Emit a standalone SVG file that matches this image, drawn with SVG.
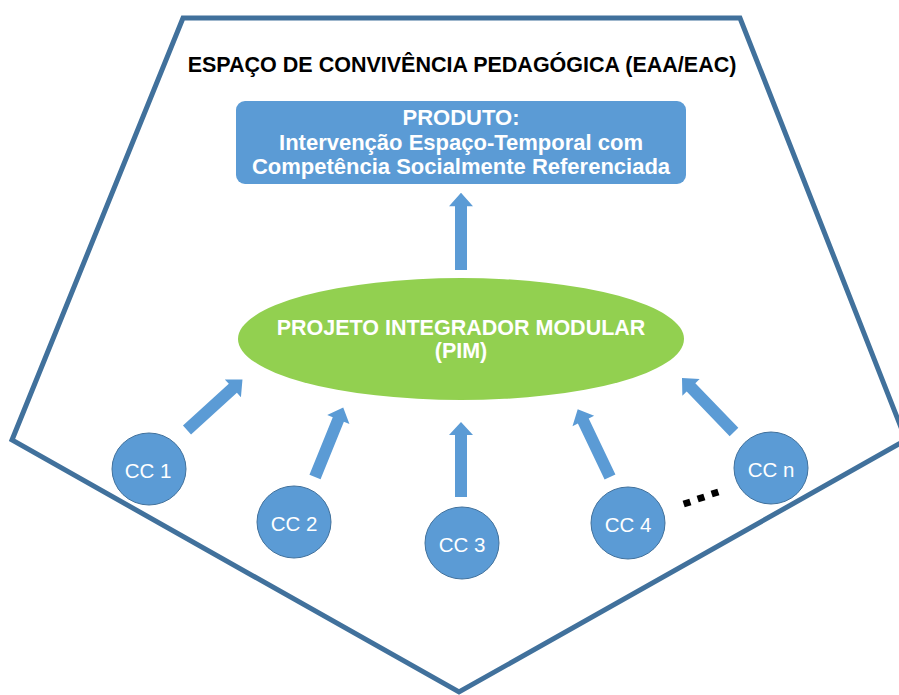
<svg xmlns="http://www.w3.org/2000/svg" xmlns:xlink="http://www.w3.org/1999/xlink" width="899" height="695" viewBox="0 0 899 695">
<style>
.frame{fill:none;stroke:#41719c;stroke-width:5;stroke-linejoin:miter}
.title{font-family:"Liberation Sans",Arial,sans-serif;font-weight:bold;font-size:21.5px;fill:#000;text-anchor:middle}
.wb{font-family:"Liberation Sans",Arial,sans-serif;font-weight:bold;fill:#fff;text-anchor:middle}
.cc{fill:#5b9bd5;stroke:#41719c;stroke-width:1}
.cct{font-family:"Liberation Sans",Arial,sans-serif;font-size:20.5px;fill:#fff;text-anchor:middle}
.arr{fill:#5b9bd5}
</style>
<defs>
<path id="arr" d="M-6,0 L-6,-62 L-12,-62 L0,-75 L12,-62 L6,-62 L6,0 Z"/>
</defs>
<polygon class="frame" points="183,18 740,18 906,440 459,692 12,440"/>
<text class="title" x="462" y="72">ESPAÇO DE CONVIVÊNCIA PEDAGÓGICA (EAA/EAC)</text>
<g id="produto">
<rect x="236" y="101" width="450" height="83" rx="9" fill="#5b9bd5"/>
<text class="wb" x="461" y="125" font-size="22">PRODUTO:</text>
<text class="wb" x="461" y="150" font-size="22">Intervenção Espaço-Temporal com</text>
<text class="wb" x="461" y="174" font-size="22">Competência Socialmente Referenciada</text>
</g>
<g id="pim">
<ellipse cx="461" cy="339" rx="223" ry="61" fill="#92d050"/>
<text class="wb" x="461" y="335" font-size="21.5">PROJETO INTEGRADOR MODULAR</text>
<text class="wb" x="461" y="358" font-size="21.5">(PIM)</text>
</g>
<g id="connectors" class="arr">
<use xlink:href="#arr" href="#arr" transform="translate(461,270) scale(1,1.03)"/>
<use xlink:href="#arr" href="#arr" transform="translate(187,430) rotate(47.7)"/>
<use xlink:href="#arr" href="#arr" transform="translate(315,477) rotate(22.1)"/>
<use xlink:href="#arr" href="#arr" transform="translate(461,497)"/>
<use xlink:href="#arr" href="#arr" transform="translate(610,477) rotate(-25.5)"/>
<use xlink:href="#arr" href="#arr" transform="translate(734,432) rotate(-43.9)"/>
</g>
<g id="cc1"><ellipse class="cc" cx="149" cy="469" rx="37" ry="36"/><text class="cct" x="148" y="478">CC 1</text></g>
<g id="cc2"><ellipse class="cc" cx="294" cy="522" rx="37" ry="36"/><text class="cct" x="294" y="531">CC 2</text></g>
<g id="cc3"><ellipse class="cc" cx="462" cy="543" rx="37" ry="36"/><text class="cct" x="462" y="552">CC 3</text></g>
<g id="cc4"><ellipse class="cc" cx="628" cy="523" rx="37" ry="36"/><text class="cct" x="628" y="532">CC 4</text></g>
<g id="ccn"><ellipse class="cc" cx="771" cy="468" rx="37" ry="36"/><text class="cct" x="771" y="477">CC n</text></g>
<g id="dots" fill="#000">
<rect x="-3.5" y="-3.5" width="7" height="7" transform="translate(687,503) rotate(-17)"/>
<rect x="-3.5" y="-3.5" width="7" height="7" transform="translate(701,498) rotate(-17)"/>
<rect x="-3.5" y="-3.5" width="7" height="7" transform="translate(715,493) rotate(-17)"/>
</g>
</svg>
